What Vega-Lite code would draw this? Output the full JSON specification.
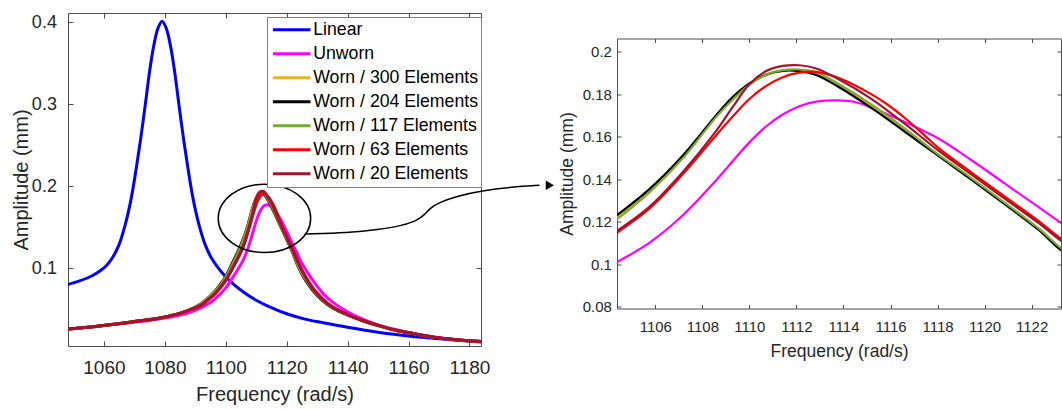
{
"$schema": "https://vega.github.io/schema/vega-lite/v6.json",
"background": "white",
"padding": {"left": 10, "top": 10, "right": 0, "bottom": 0},
"config": {
  "font": "Liberation Sans",
  "view": {"stroke": "#4d4d4d", "strokeWidth": 1},
  "axis": {"domain": false, "grid": false, "tickColor": "#4d4d4d", "tickWidth": 1, "labelColor": "#262626", "titleColor": "#262626", "titleFontWeight": "normal", "labelFont": "Liberation Sans", "titleFont": "Liberation Sans", "labelFlush": false, "labelOverlap": false}
},
"datasets": {
  "ellipse": [{"freq": 1112.7, "amp": 0.1607}],
  "arrow": [
    {"freq": 1126.4, "amp": 0.1418}, {"freq": 1140, "amp": 0.1432}, {"freq": 1150, "amp": 0.1468},
    {"freq": 1158, "amp": 0.152}, {"freq": 1163, "amp": 0.1585}, {"freq": 1165.5, "amp": 0.166},
    {"freq": 1167, "amp": 0.173}, {"freq": 1170, "amp": 0.18}, {"freq": 1176, "amp": 0.188},
    {"freq": 1184, "amp": 0.1945}, {"freq": 1194, "amp": 0.199}, {"freq": 1203, "amp": 0.201}
  ],
  "tip": [{"freq": 1206.4, "amp": 0.2012}],
  "curves": [
    {"series": "Linear", "freq": 1048, "amp": 0.080},
    {"series": "Linear", "freq": 1052, "amp": 0.0845},
    {"series": "Linear", "freq": 1056, "amp": 0.0905},
    {"series": "Linear", "freq": 1059, "amp": 0.0975},
    {"series": "Linear", "freq": 1061, "amp": 0.104},
    {"series": "Linear", "freq": 1063, "amp": 0.114},
    {"series": "Linear", "freq": 1065, "amp": 0.129},
    {"series": "Linear", "freq": 1067, "amp": 0.153},
    {"series": "Linear", "freq": 1069, "amp": 0.186},
    {"series": "Linear", "freq": 1070.5, "amp": 0.219},
    {"series": "Linear", "freq": 1072, "amp": 0.256},
    {"series": "Linear", "freq": 1073.6, "amp": 0.300},
    {"series": "Linear", "freq": 1075, "amp": 0.340},
    {"series": "Linear", "freq": 1076.3, "amp": 0.370},
    {"series": "Linear", "freq": 1077.7, "amp": 0.392},
    {"series": "Linear", "freq": 1079.1, "amp": 0.401},
    {"series": "Linear", "freq": 1080.5, "amp": 0.392},
    {"series": "Linear", "freq": 1081.9, "amp": 0.370},
    {"series": "Linear", "freq": 1083.2, "amp": 0.340},
    {"series": "Linear", "freq": 1084.6, "amp": 0.300},
    {"series": "Linear", "freq": 1086.2, "amp": 0.256},
    {"series": "Linear", "freq": 1087.7, "amp": 0.219},
    {"series": "Linear", "freq": 1089.2, "amp": 0.186},
    {"series": "Linear", "freq": 1091.2, "amp": 0.153},
    {"series": "Linear", "freq": 1093.2, "amp": 0.129},
    {"series": "Linear", "freq": 1095.2, "amp": 0.113},
    {"series": "Linear", "freq": 1097.2, "amp": 0.102},
    {"series": "Linear", "freq": 1100, "amp": 0.0895},
    {"series": "Linear", "freq": 1103, "amp": 0.079},
    {"series": "Linear", "freq": 1106, "amp": 0.0705},
    {"series": "Linear", "freq": 1110, "amp": 0.061},
    {"series": "Linear", "freq": 1114, "amp": 0.0535},
    {"series": "Linear", "freq": 1120, "amp": 0.0445},
    {"series": "Linear", "freq": 1126, "amp": 0.038},
    {"series": "Linear", "freq": 1132, "amp": 0.0335},
    {"series": "Linear", "freq": 1140, "amp": 0.028},
    {"series": "Linear", "freq": 1150, "amp": 0.022},
    {"series": "Linear", "freq": 1160, "amp": 0.0175},
    {"series": "Linear", "freq": 1170, "amp": 0.014},
    {"series": "Linear", "freq": 1184, "amp": 0.010},

    {"series": "Unworn", "freq": 1048, "amp": 0.026},
    {"series": "Unworn", "freq": 1055, "amp": 0.028},
    {"series": "Unworn", "freq": 1062, "amp": 0.031},
    {"series": "Unworn", "freq": 1070, "amp": 0.034},
    {"series": "Unworn", "freq": 1078, "amp": 0.038},
    {"series": "Unworn", "freq": 1084, "amp": 0.042},
    {"series": "Unworn", "freq": 1088, "amp": 0.046},
    {"series": "Unworn", "freq": 1092, "amp": 0.052},
    {"series": "Unworn", "freq": 1094, "amp": 0.056},
    {"series": "Unworn", "freq": 1096, "amp": 0.061},
    {"series": "Unworn", "freq": 1098, "amp": 0.068},
    {"series": "Unworn", "freq": 1100, "amp": 0.076},
    {"series": "Unworn", "freq": 1102, "amp": 0.087},
    {"series": "Unworn", "freq": 1104.3, "amp": 0.1006},
    {"series": "Unworn", "freq": 1105.76, "amp": 0.1102},
    {"series": "Unworn", "freq": 1107.18, "amp": 0.1232},
    {"series": "Unworn", "freq": 1108.59, "amp": 0.1396},
    {"series": "Unworn", "freq": 1110, "amp": 0.1574},
    {"series": "Unworn", "freq": 1110.72, "amp": 0.1650},
    {"series": "Unworn", "freq": 1111.42, "amp": 0.1705},
    {"series": "Unworn", "freq": 1112.13, "amp": 0.1744},
    {"series": "Unworn", "freq": 1112.84, "amp": 0.1766},
    {"series": "Unworn", "freq": 1113.78, "amp": 0.1772},
    {"series": "Unworn", "freq": 1114.5, "amp": 0.1764},
    {"series": "Unworn", "freq": 1115.2, "amp": 0.1737},
    {"series": "Unworn", "freq": 1116.6, "amp": 0.167},
    {"series": "Unworn", "freq": 1118.04, "amp": 0.1592},
    {"series": "Unworn", "freq": 1119.45, "amp": 0.149},
    {"series": "Unworn", "freq": 1120.87, "amp": 0.138},
    {"series": "Unworn", "freq": 1122.29, "amp": 0.127},
    {"series": "Unworn", "freq": 1123.26, "amp": 0.1195},
    {"series": "Unworn", "freq": 1125, "amp": 0.106},
    {"series": "Unworn", "freq": 1127, "amp": 0.094},
    {"series": "Unworn", "freq": 1129, "amp": 0.083},
    {"series": "Unworn", "freq": 1132, "amp": 0.069},
    {"series": "Unworn", "freq": 1135, "amp": 0.059},
    {"series": "Unworn", "freq": 1140, "amp": 0.047},
    {"series": "Unworn", "freq": 1145, "amp": 0.038},
    {"series": "Unworn", "freq": 1150, "amp": 0.031},
    {"series": "Unworn", "freq": 1156, "amp": 0.025},
    {"series": "Unworn", "freq": 1162, "amp": 0.020},
    {"series": "Unworn", "freq": 1168, "amp": 0.016},
    {"series": "Unworn", "freq": 1175, "amp": 0.013},
    {"series": "Unworn", "freq": 1184, "amp": 0.0105},

    {"series": "Worn / 300 Elements", "freq": 1048, "amp": 0.026},
    {"series": "Worn / 300 Elements", "freq": 1055, "amp": 0.028},
    {"series": "Worn / 300 Elements", "freq": 1062, "amp": 0.031},
    {"series": "Worn / 300 Elements", "freq": 1070, "amp": 0.035},
    {"series": "Worn / 300 Elements", "freq": 1078, "amp": 0.039},
    {"series": "Worn / 300 Elements", "freq": 1084, "amp": 0.044},
    {"series": "Worn / 300 Elements", "freq": 1088, "amp": 0.049},
    {"series": "Worn / 300 Elements", "freq": 1092, "amp": 0.057},
    {"series": "Worn / 300 Elements", "freq": 1094, "amp": 0.063},
    {"series": "Worn / 300 Elements", "freq": 1096, "amp": 0.070},
    {"series": "Worn / 300 Elements", "freq": 1098, "amp": 0.079},
    {"series": "Worn / 300 Elements", "freq": 1100, "amp": 0.0895},
    {"series": "Worn / 300 Elements", "freq": 1102, "amp": 0.104},
    {"series": "Worn / 300 Elements", "freq": 1104.3, "amp": 0.1218},
    {"series": "Worn / 300 Elements", "freq": 1105.76, "amp": 0.1348},
    {"series": "Worn / 300 Elements", "freq": 1107.18, "amp": 0.1507},
    {"series": "Worn / 300 Elements", "freq": 1108.59, "amp": 0.1698},
    {"series": "Worn / 300 Elements", "freq": 1109.3, "amp": 0.1782},
    {"series": "Worn / 300 Elements", "freq": 1110, "amp": 0.1849},
    {"series": "Worn / 300 Elements", "freq": 1110.72, "amp": 0.1893},
    {"series": "Worn / 300 Elements", "freq": 1111.42, "amp": 0.1912},
    {"series": "Worn / 300 Elements", "freq": 1112.13, "amp": 0.1913},
    {"series": "Worn / 300 Elements", "freq": 1112.84, "amp": 0.1898},
    {"series": "Worn / 300 Elements", "freq": 1113.78, "amp": 0.1843},
    {"series": "Worn / 300 Elements", "freq": 1115.2, "amp": 0.1744},
    {"series": "Worn / 300 Elements", "freq": 1116.6, "amp": 0.1633},
    {"series": "Worn / 300 Elements", "freq": 1118.04, "amp": 0.1513},
    {"series": "Worn / 300 Elements", "freq": 1119.45, "amp": 0.1402},
    {"series": "Worn / 300 Elements", "freq": 1120.87, "amp": 0.1286},
    {"series": "Worn / 300 Elements", "freq": 1122.29, "amp": 0.1167},
    {"series": "Worn / 300 Elements", "freq": 1123.26, "amp": 0.107},
    {"series": "Worn / 300 Elements", "freq": 1125, "amp": 0.0935},
    {"series": "Worn / 300 Elements", "freq": 1127, "amp": 0.0815},
    {"series": "Worn / 300 Elements", "freq": 1129, "amp": 0.0715},
    {"series": "Worn / 300 Elements", "freq": 1132, "amp": 0.060},
    {"series": "Worn / 300 Elements", "freq": 1135, "amp": 0.052},
    {"series": "Worn / 300 Elements", "freq": 1140, "amp": 0.043},
    {"series": "Worn / 300 Elements", "freq": 1145, "amp": 0.036},
    {"series": "Worn / 300 Elements", "freq": 1150, "amp": 0.030},
    {"series": "Worn / 300 Elements", "freq": 1156, "amp": 0.024},
    {"series": "Worn / 300 Elements", "freq": 1162, "amp": 0.020},
    {"series": "Worn / 300 Elements", "freq": 1168, "amp": 0.016},
    {"series": "Worn / 300 Elements", "freq": 1175, "amp": 0.013},
    {"series": "Worn / 300 Elements", "freq": 1184, "amp": 0.0105},

    {"series": "Worn / 204 Elements", "freq": 1048, "amp": 0.026},
    {"series": "Worn / 204 Elements", "freq": 1055, "amp": 0.028},
    {"series": "Worn / 204 Elements", "freq": 1062, "amp": 0.031},
    {"series": "Worn / 204 Elements", "freq": 1070, "amp": 0.035},
    {"series": "Worn / 204 Elements", "freq": 1078, "amp": 0.039},
    {"series": "Worn / 204 Elements", "freq": 1084, "amp": 0.044},
    {"series": "Worn / 204 Elements", "freq": 1088, "amp": 0.049},
    {"series": "Worn / 204 Elements", "freq": 1092, "amp": 0.057},
    {"series": "Worn / 204 Elements", "freq": 1094, "amp": 0.063},
    {"series": "Worn / 204 Elements", "freq": 1096, "amp": 0.070},
    {"series": "Worn / 204 Elements", "freq": 1098, "amp": 0.079},
    {"series": "Worn / 204 Elements", "freq": 1100, "amp": 0.090},
    {"series": "Worn / 204 Elements", "freq": 1102, "amp": 0.105},
    {"series": "Worn / 204 Elements", "freq": 1104.3, "amp": 0.1226},
    {"series": "Worn / 204 Elements", "freq": 1105.76, "amp": 0.1355},
    {"series": "Worn / 204 Elements", "freq": 1107.18, "amp": 0.1513},
    {"series": "Worn / 204 Elements", "freq": 1108.59, "amp": 0.1702},
    {"series": "Worn / 204 Elements", "freq": 1109.3, "amp": 0.1788},
    {"series": "Worn / 204 Elements", "freq": 1110, "amp": 0.1851},
    {"series": "Worn / 204 Elements", "freq": 1110.72, "amp": 0.1893},
    {"series": "Worn / 204 Elements", "freq": 1111.42, "amp": 0.1911},
    {"series": "Worn / 204 Elements", "freq": 1112.13, "amp": 0.1909},
    {"series": "Worn / 204 Elements", "freq": 1112.84, "amp": 0.1891},
    {"series": "Worn / 204 Elements", "freq": 1113.78, "amp": 0.1836},
    {"series": "Worn / 204 Elements", "freq": 1115.2, "amp": 0.1735},
    {"series": "Worn / 204 Elements", "freq": 1116.6, "amp": 0.1625},
    {"series": "Worn / 204 Elements", "freq": 1118.04, "amp": 0.151},
    {"series": "Worn / 204 Elements", "freq": 1119.45, "amp": 0.1398},
    {"series": "Worn / 204 Elements", "freq": 1120.87, "amp": 0.1282},
    {"series": "Worn / 204 Elements", "freq": 1122.29, "amp": 0.1163},
    {"series": "Worn / 204 Elements", "freq": 1123.26, "amp": 0.1065},
    {"series": "Worn / 204 Elements", "freq": 1125, "amp": 0.093},
    {"series": "Worn / 204 Elements", "freq": 1127, "amp": 0.081},
    {"series": "Worn / 204 Elements", "freq": 1129, "amp": 0.071},
    {"series": "Worn / 204 Elements", "freq": 1132, "amp": 0.060},
    {"series": "Worn / 204 Elements", "freq": 1135, "amp": 0.052},
    {"series": "Worn / 204 Elements", "freq": 1140, "amp": 0.043},
    {"series": "Worn / 204 Elements", "freq": 1145, "amp": 0.036},
    {"series": "Worn / 204 Elements", "freq": 1150, "amp": 0.030},
    {"series": "Worn / 204 Elements", "freq": 1156, "amp": 0.024},
    {"series": "Worn / 204 Elements", "freq": 1162, "amp": 0.020},
    {"series": "Worn / 204 Elements", "freq": 1168, "amp": 0.016},
    {"series": "Worn / 204 Elements", "freq": 1175, "amp": 0.013},
    {"series": "Worn / 204 Elements", "freq": 1184, "amp": 0.0105},

    {"series": "Worn / 117 Elements", "freq": 1048, "amp": 0.026},
    {"series": "Worn / 117 Elements", "freq": 1055, "amp": 0.028},
    {"series": "Worn / 117 Elements", "freq": 1062, "amp": 0.031},
    {"series": "Worn / 117 Elements", "freq": 1070, "amp": 0.035},
    {"series": "Worn / 117 Elements", "freq": 1078, "amp": 0.039},
    {"series": "Worn / 117 Elements", "freq": 1084, "amp": 0.044},
    {"series": "Worn / 117 Elements", "freq": 1088, "amp": 0.049},
    {"series": "Worn / 117 Elements", "freq": 1092, "amp": 0.057},
    {"series": "Worn / 117 Elements", "freq": 1094, "amp": 0.063},
    {"series": "Worn / 117 Elements", "freq": 1096, "amp": 0.070},
    {"series": "Worn / 117 Elements", "freq": 1098, "amp": 0.078},
    {"series": "Worn / 117 Elements", "freq": 1100, "amp": 0.089},
    {"series": "Worn / 117 Elements", "freq": 1102, "amp": 0.103},
    {"series": "Worn / 117 Elements", "freq": 1104.3, "amp": 0.1207},
    {"series": "Worn / 117 Elements", "freq": 1105.76, "amp": 0.134},
    {"series": "Worn / 117 Elements", "freq": 1107.18, "amp": 0.150},
    {"series": "Worn / 117 Elements", "freq": 1108.59, "amp": 0.1694},
    {"series": "Worn / 117 Elements", "freq": 1109.3, "amp": 0.1776},
    {"series": "Worn / 117 Elements", "freq": 1110, "amp": 0.1846},
    {"series": "Worn / 117 Elements", "freq": 1110.72, "amp": 0.1893},
    {"series": "Worn / 117 Elements", "freq": 1111.42, "amp": 0.1914},
    {"series": "Worn / 117 Elements", "freq": 1112.13, "amp": 0.1917},
    {"series": "Worn / 117 Elements", "freq": 1112.84, "amp": 0.1904},
    {"series": "Worn / 117 Elements", "freq": 1113.78, "amp": 0.1850},
    {"series": "Worn / 117 Elements", "freq": 1115.2, "amp": 0.1752},
    {"series": "Worn / 117 Elements", "freq": 1116.6, "amp": 0.1640},
    {"series": "Worn / 117 Elements", "freq": 1118.04, "amp": 0.1516},
    {"series": "Worn / 117 Elements", "freq": 1119.45, "amp": 0.1405},
    {"series": "Worn / 117 Elements", "freq": 1120.87, "amp": 0.1289},
    {"series": "Worn / 117 Elements", "freq": 1122.29, "amp": 0.117},
    {"series": "Worn / 117 Elements", "freq": 1123.26, "amp": 0.1075},
    {"series": "Worn / 117 Elements", "freq": 1125, "amp": 0.094},
    {"series": "Worn / 117 Elements", "freq": 1127, "amp": 0.082},
    {"series": "Worn / 117 Elements", "freq": 1129, "amp": 0.072},
    {"series": "Worn / 117 Elements", "freq": 1132, "amp": 0.0605},
    {"series": "Worn / 117 Elements", "freq": 1135, "amp": 0.0525},
    {"series": "Worn / 117 Elements", "freq": 1140, "amp": 0.043},
    {"series": "Worn / 117 Elements", "freq": 1145, "amp": 0.036},
    {"series": "Worn / 117 Elements", "freq": 1150, "amp": 0.030},
    {"series": "Worn / 117 Elements", "freq": 1156, "amp": 0.024},
    {"series": "Worn / 117 Elements", "freq": 1162, "amp": 0.020},
    {"series": "Worn / 117 Elements", "freq": 1168, "amp": 0.016},
    {"series": "Worn / 117 Elements", "freq": 1175, "amp": 0.013},
    {"series": "Worn / 117 Elements", "freq": 1184, "amp": 0.0105},

    {"series": "Worn / 63 Elements", "freq": 1048, "amp": 0.026},
    {"series": "Worn / 63 Elements", "freq": 1055, "amp": 0.028},
    {"series": "Worn / 63 Elements", "freq": 1062, "amp": 0.031},
    {"series": "Worn / 63 Elements", "freq": 1070, "amp": 0.035},
    {"series": "Worn / 63 Elements", "freq": 1078, "amp": 0.039},
    {"series": "Worn / 63 Elements", "freq": 1084, "amp": 0.044},
    {"series": "Worn / 63 Elements", "freq": 1088, "amp": 0.049},
    {"series": "Worn / 63 Elements", "freq": 1092, "amp": 0.055},
    {"series": "Worn / 63 Elements", "freq": 1094, "amp": 0.061},
    {"series": "Worn / 63 Elements", "freq": 1096, "amp": 0.067},
    {"series": "Worn / 63 Elements", "freq": 1098, "amp": 0.075},
    {"series": "Worn / 63 Elements", "freq": 1100, "amp": 0.085},
    {"series": "Worn / 63 Elements", "freq": 1102, "amp": 0.098},
    {"series": "Worn / 63 Elements", "freq": 1104.3, "amp": 0.1144},
    {"series": "Worn / 63 Elements", "freq": 1105.76, "amp": 0.1263},
    {"series": "Worn / 63 Elements", "freq": 1107.18, "amp": 0.1425},
    {"series": "Worn / 63 Elements", "freq": 1108.59, "amp": 0.1608},
    {"series": "Worn / 63 Elements", "freq": 1109.3, "amp": 0.1697},
    {"series": "Worn / 63 Elements", "freq": 1110, "amp": 0.1778},
    {"series": "Worn / 63 Elements", "freq": 1110.72, "amp": 0.1840},
    {"series": "Worn / 63 Elements", "freq": 1111.42, "amp": 0.1881},
    {"series": "Worn / 63 Elements", "freq": 1112.13, "amp": 0.1902},
    {"series": "Worn / 63 Elements", "freq": 1112.84, "amp": 0.1906},
    {"series": "Worn / 63 Elements", "freq": 1113.78, "amp": 0.1878},
    {"series": "Worn / 63 Elements", "freq": 1115.2, "amp": 0.1800},
    {"series": "Worn / 63 Elements", "freq": 1115.9, "amp": 0.1750},
    {"series": "Worn / 63 Elements", "freq": 1116.6, "amp": 0.1690},
    {"series": "Worn / 63 Elements", "freq": 1117.3, "amp": 0.1622},
    {"series": "Worn / 63 Elements", "freq": 1118.04, "amp": 0.1548},
    {"series": "Worn / 63 Elements", "freq": 1119.45, "amp": 0.1432},
    {"series": "Worn / 63 Elements", "freq": 1120.87, "amp": 0.1318},
    {"series": "Worn / 63 Elements", "freq": 1122.29, "amp": 0.1205},
    {"series": "Worn / 63 Elements", "freq": 1123.26, "amp": 0.112},
    {"series": "Worn / 63 Elements", "freq": 1125, "amp": 0.098},
    {"series": "Worn / 63 Elements", "freq": 1127, "amp": 0.085},
    {"series": "Worn / 63 Elements", "freq": 1129, "amp": 0.074},
    {"series": "Worn / 63 Elements", "freq": 1132, "amp": 0.062},
    {"series": "Worn / 63 Elements", "freq": 1135, "amp": 0.053},
    {"series": "Worn / 63 Elements", "freq": 1140, "amp": 0.0435},
    {"series": "Worn / 63 Elements", "freq": 1145, "amp": 0.0363},
    {"series": "Worn / 63 Elements", "freq": 1150, "amp": 0.0303},
    {"series": "Worn / 63 Elements", "freq": 1156, "amp": 0.0243},
    {"series": "Worn / 63 Elements", "freq": 1162, "amp": 0.0202},
    {"series": "Worn / 63 Elements", "freq": 1168, "amp": 0.0162},
    {"series": "Worn / 63 Elements", "freq": 1175, "amp": 0.0131},
    {"series": "Worn / 63 Elements", "freq": 1184, "amp": 0.0106},

    {"series": "Worn / 20 Elements", "freq": 1048, "amp": 0.026},
    {"series": "Worn / 20 Elements", "freq": 1055, "amp": 0.028},
    {"series": "Worn / 20 Elements", "freq": 1062, "amp": 0.031},
    {"series": "Worn / 20 Elements", "freq": 1070, "amp": 0.035},
    {"series": "Worn / 20 Elements", "freq": 1078, "amp": 0.039},
    {"series": "Worn / 20 Elements", "freq": 1084, "amp": 0.044},
    {"series": "Worn / 20 Elements", "freq": 1088, "amp": 0.049},
    {"series": "Worn / 20 Elements", "freq": 1092, "amp": 0.055},
    {"series": "Worn / 20 Elements", "freq": 1094, "amp": 0.061},
    {"series": "Worn / 20 Elements", "freq": 1096, "amp": 0.0675},
    {"series": "Worn / 20 Elements", "freq": 1098, "amp": 0.0755},
    {"series": "Worn / 20 Elements", "freq": 1100, "amp": 0.0855},
    {"series": "Worn / 20 Elements", "freq": 1102, "amp": 0.0985},
    {"series": "Worn / 20 Elements", "freq": 1104.3, "amp": 0.1152},
    {"series": "Worn / 20 Elements", "freq": 1105.76, "amp": 0.1272},
    {"series": "Worn / 20 Elements", "freq": 1107.18, "amp": 0.1436},
    {"series": "Worn / 20 Elements", "freq": 1108.59, "amp": 0.1628},
    {"series": "Worn / 20 Elements", "freq": 1109.3, "amp": 0.1742},
    {"series": "Worn / 20 Elements", "freq": 1110, "amp": 0.1848},
    {"series": "Worn / 20 Elements", "freq": 1110.72, "amp": 0.1910},
    {"series": "Worn / 20 Elements", "freq": 1111.42, "amp": 0.1934},
    {"series": "Worn / 20 Elements", "freq": 1112.13, "amp": 0.1937},
    {"series": "Worn / 20 Elements", "freq": 1112.84, "amp": 0.1922},
    {"series": "Worn / 20 Elements", "freq": 1113.78, "amp": 0.1872},
    {"series": "Worn / 20 Elements", "freq": 1115.2, "amp": 0.1778},
    {"series": "Worn / 20 Elements", "freq": 1116.6, "amp": 0.1662},
    {"series": "Worn / 20 Elements", "freq": 1118.04, "amp": 0.1535},
    {"series": "Worn / 20 Elements", "freq": 1119.45, "amp": 0.1422},
    {"series": "Worn / 20 Elements", "freq": 1120.87, "amp": 0.1308},
    {"series": "Worn / 20 Elements", "freq": 1122.29, "amp": 0.1195},
    {"series": "Worn / 20 Elements", "freq": 1123.26, "amp": 0.111},
    {"series": "Worn / 20 Elements", "freq": 1125, "amp": 0.097},
    {"series": "Worn / 20 Elements", "freq": 1127, "amp": 0.084},
    {"series": "Worn / 20 Elements", "freq": 1129, "amp": 0.073},
    {"series": "Worn / 20 Elements", "freq": 1132, "amp": 0.061},
    {"series": "Worn / 20 Elements", "freq": 1135, "amp": 0.053},
    {"series": "Worn / 20 Elements", "freq": 1140, "amp": 0.0435},
    {"series": "Worn / 20 Elements", "freq": 1145, "amp": 0.0363},
    {"series": "Worn / 20 Elements", "freq": 1150, "amp": 0.0303},
    {"series": "Worn / 20 Elements", "freq": 1156, "amp": 0.0243},
    {"series": "Worn / 20 Elements", "freq": 1162, "amp": 0.0202},
    {"series": "Worn / 20 Elements", "freq": 1168, "amp": 0.0162},
    {"series": "Worn / 20 Elements", "freq": 1175, "amp": 0.0131},
    {"series": "Worn / 20 Elements", "freq": 1184, "amp": 0.0106}
  ]
},
"spacing": 136,
"bounds": "flush",
"center": false,
"resolve": {"scale": {"color": "independent"}},
"hconcat": [
  {
    "width": 413,
    "height": 333,
    "resolve": {"axis": {"x": "independent", "y": "independent"}},
    "layer": [
      {
        "data": {"name": "curves"},
        "mark": {"type": "line", "clip": true, "strokeWidth": 3, "interpolate": "catmull-rom"},
        "encoding": {
          "x": {"field": "freq", "type": "quantitative",
                "scale": {"domain": [1048.2, 1183.8], "nice": false, "zero": false},
                "axis": {"orient": "bottom", "title": "Frequency (rad/s)", "values": [1060, 1080, 1100, 1120, 1140, 1160, 1180], "format": "d", "tickSize": -5, "labelPadding": 17.6, "labelFontSize": 19, "titleFontSize": 20, "titlePadding": 7}},
          "y": {"field": "amp", "type": "quantitative",
                "scale": {"domain": [0.0052, 0.411], "nice": false, "zero": false},
                "axis": {"orient": "left", "title": "Amplitude (mm)", "values": [0.1, 0.2, 0.3, 0.4], "format": "~g", "tickSize": -5, "labelPadding": 16.6, "labelFontSize": 18, "titleFontSize": 20, "titlePadding": 0}},
          "color": {"field": "series", "type": "nominal",
                    "scale": {"domain": ["Linear", "Unworn", "Worn / 300 Elements", "Worn / 204 Elements", "Worn / 117 Elements", "Worn / 63 Elements", "Worn / 20 Elements"],
                              "range": ["#0000FF", "#FF00FF", "#EDB120", "#000000", "#77AC30", "#FF0000", "#A2142F"]},
                    "legend": {"title": null, "orient": "none", "legendX": 199, "legendY": 4, "symbolType": "stroke", "symbolSize": 1414, "symbolStrokeWidth": 3, "symbolOffset": 2, "labelOffset": 1, "labelFontSize": 17.7, "labelFont": "Liberation Sans", "labelColor": "#000000", "labelLimit": 400, "clipHeight": 21, "rowPadding": 3, "padding": 2.2, "strokeColor": "#808080", "fillColor": "white", "cornerRadius": 0}}
        }
      },
      {
        "data": {"name": "ellipse"},
        "mark": {"type": "point", "shape": "M-1,0A1,0.74,0,1,0,1,0A1,0.74,0,1,0,-1,0Z", "size": 8540, "filled": false, "stroke": "black", "strokeWidth": 1.5, "opacity": 1, "clip": false},
        "encoding": {
          "x": {"field": "freq", "type": "quantitative",
                "scale": {"domain": [1048.2, 1183.8], "nice": false, "zero": false},
                "axis": {"orient": "top", "title": null, "labels": false, "values": [1060, 1080, 1100, 1120, 1140, 1160, 1180], "tickSize": -5}},
          "y": {"field": "amp", "type": "quantitative",
                "scale": {"domain": [0.0052, 0.411], "nice": false, "zero": false},
                "axis": {"orient": "right", "title": null, "labels": false, "values": [0.1, 0.2, 0.3, 0.4], "tickSize": -5}}
        }
      },
      {
        "data": {"name": "arrow"},
        "mark": {"type": "line", "clip": false, "color": "black", "strokeWidth": 1.5, "interpolate": "basis"},
        "encoding": {
          "x": {"field": "freq", "type": "quantitative", "scale": {"domain": [1048.2, 1183.8], "nice": false, "zero": false}, "axis": null},
          "y": {"field": "amp", "type": "quantitative", "scale": {"domain": [0.0052, 0.411], "nice": false, "zero": false}, "axis": null}
        }
      },
      {
        "data": {"name": "tip"},
        "mark": {"type": "point", "shape": "triangle-right", "filled": true, "color": "black", "size": 90, "opacity": 1, "clip": false},
        "encoding": {
          "x": {"field": "freq", "type": "quantitative", "scale": {"domain": [1048.2, 1183.8], "nice": false, "zero": false}, "axis": null},
          "y": {"field": "amp", "type": "quantitative", "scale": {"domain": [0.0052, 0.411], "nice": false, "zero": false}, "axis": null}
        }
      }
    ]
  },
  {
    "vconcat": [
      {
        "width": 444,
        "height": 1,
        "view": {"stroke": null},
        "data": {"name": "ellipse"},
        "mark": {"type": "point", "opacity": 0},
        "encoding": {}
      },
      {
        "width": 444,
        "height": 270,
        "resolve": {"axis": {"x": "independent", "y": "independent"}},
        "layer": [
          {
            "data": {"name": "curves"},
            "mark": {"type": "line", "clip": true, "strokeWidth": 2.2, "interpolate": "catmull-rom"},
            "encoding": {
              "x": {"field": "freq", "type": "quantitative",
                    "scale": {"domain": [1104.37, 1123.25], "nice": false, "zero": false},
                    "axis": {"orient": "bottom", "title": "Frequency (rad/s)", "values": [1106, 1108, 1110, 1112, 1114, 1116, 1118, 1120, 1122], "format": "d", "tickSize": -4, "labelPadding": 14.6, "labelFontSize": 15, "titleFontSize": 17.5, "titlePadding": 8}},
              "y": {"field": "amp", "type": "quantitative",
                    "scale": {"domain": [0.0792, 0.2063], "nice": false, "zero": false},
                    "axis": {"orient": "left", "title": "Amplitude (mm)", "values": [0.08, 0.1, 0.12, 0.14, 0.16, 0.18, 0.2], "format": "~g", "tickSize": -4, "labelPadding": 9.6, "labelFontSize": 15, "titleFontSize": 17.5, "titlePadding": 5.8}},
              "color": {"field": "series", "type": "nominal",
                        "scale": {"domain": ["Linear", "Unworn", "Worn / 300 Elements", "Worn / 204 Elements", "Worn / 117 Elements", "Worn / 63 Elements", "Worn / 20 Elements"],
                                  "range": ["#0000FF", "#FF00FF", "#EDB120", "#000000", "#77AC30", "#FF0000", "#A2142F"]},
                        "legend": null}
            }
          },
          {
            "data": {"name": "ellipse"},
            "mark": {"type": "point", "opacity": 0},
            "encoding": {
              "x": {"field": "freq", "type": "quantitative",
                    "scale": {"domain": [1104.37, 1123.25], "nice": false, "zero": false},
                    "axis": {"orient": "top", "title": null, "labels": false, "values": [1106, 1108, 1110, 1112, 1114, 1116, 1118, 1120, 1122], "tickSize": -4}},
              "y": {"field": "amp", "type": "quantitative",
                    "scale": {"domain": [0.0792, 0.2063], "nice": false, "zero": false},
                    "axis": {"orient": "right", "title": null, "labels": false, "values": [0.08, 0.1, 0.12, 0.14, 0.16, 0.18, 0.2], "tickSize": -4}}
            }
          }
        ]
      }
    ],
    "spacing": 24.5,
    "bounds": "flush"
  }
]
}
